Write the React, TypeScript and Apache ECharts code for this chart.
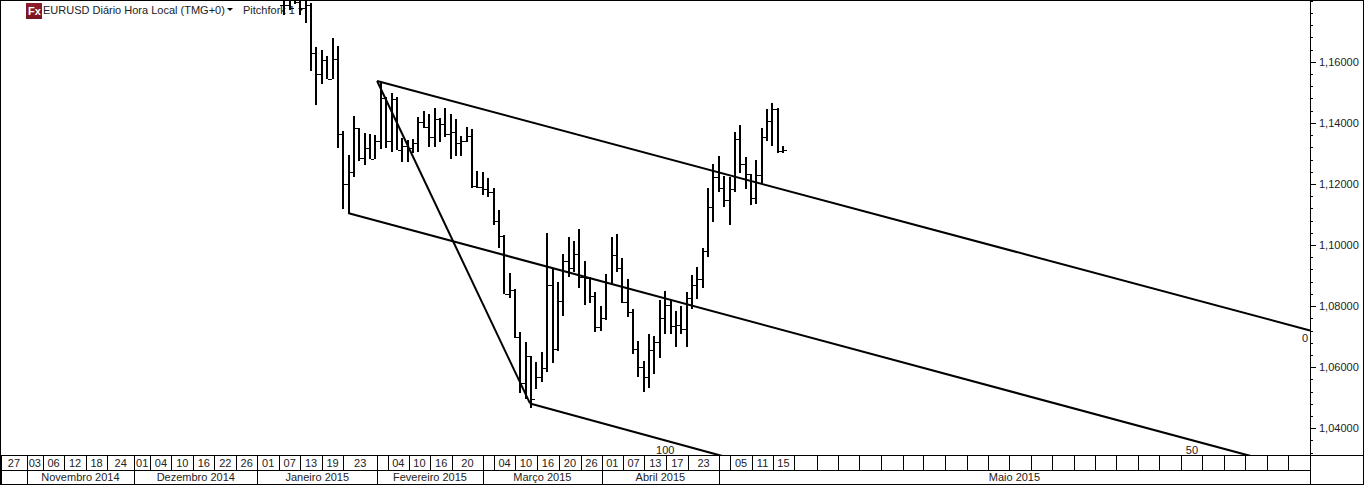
import React, { useEffect, useRef } from "react";
import * as echarts from "echarts";

// Bar slot of each price bar (one slot per trading day)
const firstSlot = 53;
const highs = [1.19,1.19,1.19,1.19,1.19,1.1793,1.1649,1.1639,1.1620,1.1679,1.1652,1.1374,1.1295,1.1423,1.1383,1.1367,1.1364,1.1361,1.1531,1.1485,1.1498,1.1485,1.1351,1.1344,1.1348,1.1420,1.1439,1.1430,1.1449,1.1416,1.1449,1.1430,1.1413,1.1357,1.1387,1.1380,1.1243,1.1239,1.1220,1.1187,1.1115,1.1033,1.0908,1.0856,1.0715,1.0682,1.0636,1.0617,1.0649,1.1039,1.0925,1.0879,1.0971,1.1026,1.1013,1.1052,1.0948,1.0895,1.0846,1.0800,1.0905,1.1026,1.1036,1.0957,1.0889,1.0790,1.0685,1.0620,1.0708,1.0702,1.0820,1.0849,1.0820,1.0784,1.0800,1.0846,1.0902,1.0928,1.0990,1.1187,1.1266,1.1292,1.1226,1.1223,1.1371,1.1393,1.1289,1.1233,1.1279,1.1383,1.1446,1.1466,1.1449,1.1324];
const lows = [1.1754,1.1770,1.1790,1.1754,1.1728,1.1570,1.1459,1.1528,1.1544,1.1544,1.1318,1.1118,1.1102,1.1223,1.1275,1.1262,1.1282,1.1282,1.1315,1.1318,1.1305,1.1311,1.1272,1.1272,1.1302,1.1305,1.1383,1.1321,1.1321,1.1338,1.1354,1.1282,1.1292,1.1292,1.1338,1.1187,1.1187,1.1164,1.1157,1.1066,1.0990,1.0839,1.0826,1.0695,1.0515,1.0498,1.0466,1.0528,1.0551,1.0584,1.0616,1.0653,1.0767,1.0895,1.0911,1.0859,1.0806,1.0810,1.0715,1.0718,1.0754,1.0869,1.0911,1.0810,1.0764,1.0643,1.0567,1.0521,1.0531,1.0577,1.0630,1.0711,1.0711,1.0666,1.0711,1.0666,1.0790,1.0823,1.0859,1.0961,1.1075,1.1174,1.1125,1.1066,1.1174,1.1236,1.1184,1.1131,1.1134,1.1203,1.1341,1.1324,1.1302,1.1302];
const opens = [1.1787,1.1787,1.1777,1.1796,1.1777,1.1787,1.1629,1.1561,1.1606,1.1544,1.1610,1.1364,1.1200,1.1239,1.1383,1.1285,1.1318,1.1282,1.1341,1.1482,1.1341,1.1479,1.1311,1.1324,1.1318,1.1334,1.1403,1.1387,1.1354,1.1413,1.1397,1.1364,1.1370,1.1334,1.1341,1.1357,1.1193,1.1190,1.1184,1.1174,1.1079,1.1030,1.0839,1.0852,1.0698,1.0548,1.0636,1.0495,1.0567,1.0597,1.0869,1.0659,1.0816,1.0948,1.0925,1.0971,1.0895,1.0892,1.0833,1.0731,1.0761,1.0875,1.0967,1.0925,1.0813,1.0780,1.0659,1.0600,1.0567,1.0656,1.0682,1.0761,1.0803,1.0734,1.0738,1.0725,1.0826,1.0869,1.0889,1.0980,1.1125,1.1223,1.1187,1.1148,1.1184,1.1348,1.1266,1.1233,1.1154,1.1230,1.1354,1.1407,1.1446,1.1308];
const closes = [1.1787,1.1777,1.1796,1.1777,1.1787,1.1629,1.1561,1.1606,1.1544,1.1610,1.1364,1.1200,1.1239,1.1383,1.1285,1.1318,1.1282,1.1341,1.1482,1.1341,1.1479,1.1311,1.1324,1.1318,1.1334,1.1403,1.1387,1.1354,1.1413,1.1397,1.1364,1.1370,1.1334,1.1341,1.1357,1.1193,1.1190,1.1184,1.1174,1.1079,1.1030,1.0839,1.0852,1.0698,1.0548,1.0636,1.0495,1.0567,1.0597,1.0869,1.0659,1.0816,1.0948,1.0925,1.0971,1.0895,1.0892,1.0833,1.0731,1.0761,1.0875,1.0967,1.0925,1.0813,1.0780,1.0659,1.0600,1.0567,1.0656,1.0682,1.0761,1.0803,1.0734,1.0738,1.0725,1.0826,1.0869,1.0889,1.0980,1.1125,1.1223,1.1187,1.1148,1.1184,1.1348,1.1266,1.1233,1.1154,1.1230,1.1354,1.1407,1.1446,1.1308,1.1311];

// Pitchfork lines as [slot, price] end points
const pitchforkHandle = [[70.3, 1.1538], [98.8, 1.0482]];
const pitchforkUpper = [[70.3, 1.1538], [244.2, 1.0721]];
const pitchforkMedian = [[65.0, 1.1105], [233.5, 1.0308]];
const pitchforkLower = [[98.8, 1.0482], [135.0, 1.0308]];
const pitchforkLevels = [[243.3, 1.0695, "0"], [222.2, 1.0328, "50"], [124.0, 1.0331, "100"]];

// Price axis
const priceTicks = [1.04, 1.06, 1.08, 1.10, 1.12, 1.14, 1.16];
const priceMinorTicks = [1.032,1.036,1.04,1.044,1.048,1.052,1.056,1.06,1.064,1.068,1.072,1.076,1.08,1.084,1.088,1.092,1.096,1.10,1.104,1.108,1.112,1.116,1.12,1.124,1.128,1.132,1.136,1.14,1.144,1.148,1.152,1.156,1.16,1.164,1.168,1.172,1.176,1.18];
const priceMin = 1.03131;
const priceMax = 1.18;

// Date strip: cell boundaries in slots, and the text of each cell
const slotMin = 0.19;
const slotMax = 244.2;
const dayEdges = [0.19,5,8,12,16,20,25,28,32,36,40,44,48,52,56,60,64,70.3,72.3,76.2,80.2,84.3,90,92.1,96,100.1,104.2,108.3,112.2,116.1,120.1,124.2,128.3,134,136.1,140.2,144.1,148,152.3,156.2,160.1,164.2,168.3,172.1,176.2,180.3,184.2,188.1,192.2,196.1,200.2,204.1,208,212.2,216.1,220.2,224.1,228.2,232.1,236.2,240.1,244.2];
const dayLabels = ["27","03","06","12","18","24","01","04","10","16","22","26","01","07","13","19","23","","04","10","16","20","","04","10","16","20","26","01","07","13","17","23","","05","11","15"];
const monthEdges = [0.19,5,25,48,70.3,90,112.2,134,244.2];
const monthLabels = ["","Novembro 2014","Dezembro 2014","Janeiro 2015","Fevereiro 2015","Março 2015","Abril 2015","Maio 2015"];

const headerTitle = "EURUSD Diário Hora Local (TMG+0)";
const headerStudy = "Pitchfork 1";

const FONT = "'Liberation Sans', Arial, sans-serif";
const TEXT = "#222222";

function cellLabels(edges: number[], labels: string[]) {
  const map = new Map<number, string>();
  labels.forEach((t, i) => {
    if (t) map.set((edges[i] + edges[i + 1]) / 2, t);
  });
  return map;
}

function stripAxis(gridIndex: number, edges: number[], labels: string[], length: number, showLine: boolean) {
  const map = cellLabels(edges, labels);
  return {
    type: "value",
    gridIndex,
    min: slotMin,
    max: slotMax,
    position: "bottom",
    splitLine: { show: false },
    axisLine: { show: showLine, lineStyle: { color: "#000", width: 1 } },
    axisTick: { show: true, inside: true, length, customValues: edges, lineStyle: { color: "#000", width: 1 } },
    axisLabel: {
      show: true,
      inside: true,
      margin: 2,
      customValues: Array.from(map.keys()),
      formatter: (v: number) => map.get(v) ?? "",
      color: TEXT,
      fontFamily: FONT,
      fontSize: 11,
      hideOverlap: false,
      showMinLabel: true,
      showMaxLabel: true,
    },
  };
}

function fork(data: number[][]) {
  return {
    type: "line",
    xAxisIndex: 0,
    yAxisIndex: 0,
    data,
    symbol: "none",
    clip: true,
    silent: true,
    z: 4,
    lineStyle: { color: "#000", width: 2 },
  };
}

export default function App() {
  const ref = useRef<HTMLDivElement>(null);
  useEffect(() => {
    document.body.style.margin = "0";
    const chart = echarts.init(ref.current!, undefined, { renderer: "svg" });
    const bars = highs.map((h, i) => [firstSlot + i, opens[i], h, lows[i], closes[i]]);
    chart.setOption({
      animation: false,
      backgroundColor: "#fff",
      grid: [
        { left: 1, top: 1, width: 1309, height: 454 },
        { left: 1, top: 455, width: 1309, height: 15 },
        { left: 1, top: 470, width: 1309, height: 14 },
      ],
      xAxis: [
        {
          type: "value", gridIndex: 0, min: slotMin, max: slotMax,
          splitLine: { show: false }, axisLabel: { show: false }, axisTick: { show: false },
          axisLine: { show: false },
        },
        stripAxis(1, dayEdges, dayLabels, 15, true),
        stripAxis(2, monthEdges, monthLabels, 14, true),
      ],
      yAxis: [
        {
          type: "value", gridIndex: 0, min: priceMin, max: priceMax, position: "right",
          splitLine: { show: false },
          axisLine: { show: true, onZero: false, lineStyle: { color: "#000", width: 1 } },
          axisTick: { show: true, length: 6, customValues: priceTicks, lineStyle: { color: "#000", width: 1 } },
          axisLabel: {
            show: true, margin: 9, customValues: priceTicks,
            formatter: (v: number) => v.toFixed(5).replace(".", ","),
            color: TEXT, fontFamily: FONT, fontSize: 11,
          },
        },
        {
          type: "value", gridIndex: 0, min: priceMin, max: priceMax, position: "right",
          splitLine: { show: false },
          axisLine: { show: false, onZero: false },
          axisTick: { show: true, length: 3, customValues: priceMinorTicks, lineStyle: { color: "#000", width: 1 } },
          axisLabel: { show: false },
        },
        { type: "value", gridIndex: 1, min: 0, max: 1, show: false },
        { type: "value", gridIndex: 2, min: 0, max: 1, show: false },
      ],
      graphic: [
        { type: "line", silent: true, z: 10, shape: { x1: 0, y1: 0.5, x2: 1364, y2: 0.5 }, style: { stroke: "#000", lineWidth: 1 } },
        { type: "line", silent: true, z: 10, shape: { x1: 0.5, y1: 0, x2: 0.5, y2: 485 }, style: { stroke: "#000", lineWidth: 1 } },
        { type: "line", silent: true, z: 10, shape: { x1: 1363.5, y1: 0, x2: 1363.5, y2: 485 }, style: { stroke: "#000", lineWidth: 1 } },
        { type: "line", silent: true, z: 10, shape: { x1: 0, y1: 455.5, x2: 1364, y2: 455.5 }, style: { stroke: "#000", lineWidth: 1 } },
        { type: "line", silent: true, z: 10, shape: { x1: 0, y1: 484.5, x2: 1364, y2: 484.5 }, style: { stroke: "#000", lineWidth: 1 } },
        {
          type: "rect", silent: true, z: 10, shape: { x: 26, y: 3, width: 16, height: 16 },
          style: {
            fill: new echarts.graphic.LinearGradient(0, 0, 0, 1, [
              { offset: 0, color: "#8f1d2b" },
              { offset: 1, color: "#7a1420" },
            ]),
          },
        },
        { type: "text", silent: true, z: 11, x: 28, y: 5, style: { text: "Fx", fill: "#fff", font: `bold 11px ${FONT}` } },
        { type: "text", silent: true, z: 11, x: 43, y: 4, style: { text: headerTitle, fill: TEXT, font: `11px ${FONT}` } },
        { type: "polygon", silent: true, z: 11, shape: { points: [[227, 8], [233, 8], [230, 11]] }, style: { fill: "#000" } },
        { type: "text", silent: true, z: 1, x: 243, y: 4, style: { text: headerStudy, fill: TEXT, font: `11px ${FONT}` } },
        { type: "polygon", silent: true, z: 11, shape: { points: [[298, 8], [304, 8], [301, 11]] }, style: { fill: "#000" } },
      ],
      series: [
        {
          type: "custom",
          xAxisIndex: 0,
          yAxisIndex: 0,
          clip: true,
          silent: true,
          z: 3,
          data: bars,
          encode: { x: 0, y: [1, 2, 3, 4] },
          renderItem: (_p: any, api: any) => {
            const s = api.value(0);
            const x = Math.round(api.coord([s, api.value(1)])[0]);
            const yOf = (i: number) => Math.round(api.coord([s, api.value(i)])[1]);
            const style = { fill: "#000" };
            return {
              type: "group",
              children: [
                { type: "rect", shape: { x: x - 1, y: yOf(2), width: 2, height: yOf(3) - yOf(2) }, style },
                { type: "rect", shape: { x: x - 4, y: yOf(1), width: 3, height: 1 }, style },
                { type: "rect", shape: { x: x + 1, y: yOf(4), width: 3, height: 1 }, style },
              ],
            };
          },
        },
        fork(pitchforkHandle),
        fork(pitchforkUpper),
        fork(pitchforkMedian),
        fork(pitchforkLower),
        {
          type: "custom",
          xAxisIndex: 0,
          yAxisIndex: 0,
          silent: true,
          z: 5,
          data: pitchforkLevels,
          encode: { x: 0, y: 1 },
          renderItem: (_p: any, api: any) => {
            const [x, y] = api.coord([api.value(0), api.value(1)]);
            return {
              type: "text",
              x,
              y,
              style: {
                text: pitchforkLevels[_p.dataIndex][2],
                fill: TEXT,
                font: `11px ${FONT}`,
                align: "center",
                verticalAlign: "middle",
              },
            };
          },
        },
      ],
    });
    return () => chart.dispose();
  }, []);
  return <div ref={ref} style={{ width: 1364, height: 485 }} />;
}
